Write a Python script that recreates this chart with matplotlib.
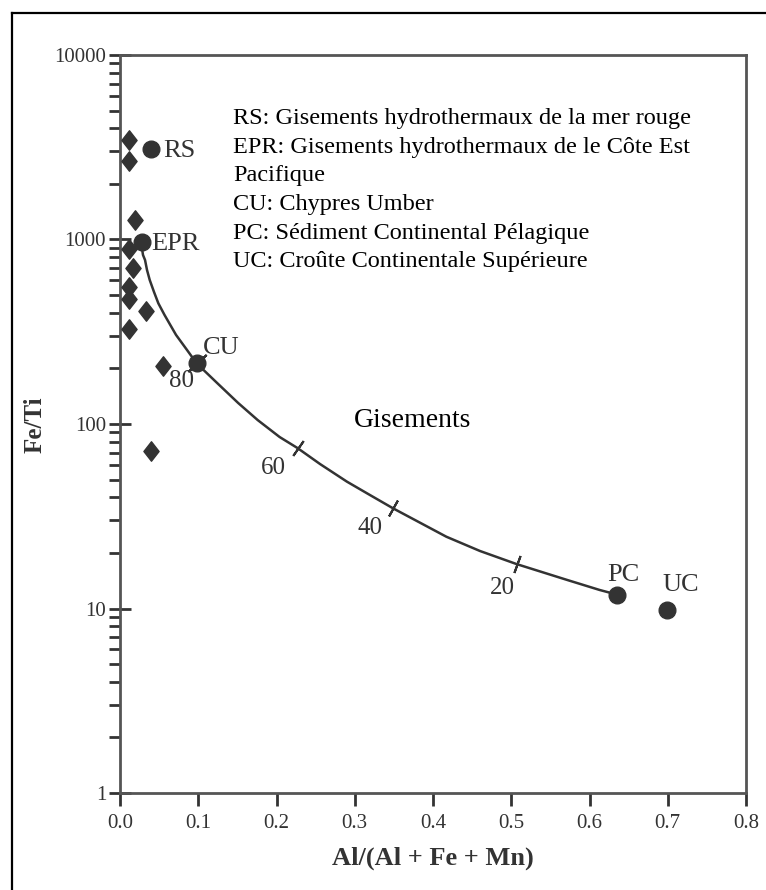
import numpy as np
import matplotlib
matplotlib.use('Agg')
import matplotlib.pyplot as plt
from matplotlib.lines import Line2D
from matplotlib.path import Path

plt.rcParams['font.family'] = ['Liberation Serif', 'DejaVu Serif']

# diamonds (samples)
sample_x = [0.012, 0.012, 0.019, 0.012, 0.017, 0.012, 0.012, 0.033, 0.012, 0.055, 0.040]
sample_y = [3460, 2675, 1275, 888, 700, 555, 476, 411, 327, 206, 71]

# reference end members
ref_names = ['RS', 'EPR', 'CU', 'PC', 'UC']
ref_x = [0.039, 0.028, 0.098, 0.635, 0.699]
ref_y = [3080, 965, 213, 11.9, 9.8]

# mixing curve EPR -> PC
curve_x = [0.028, 0.0294, 0.032, 0.0345, 0.038, 0.0435, 0.049, 0.0569, 0.0716, 0.0856,
           0.098, 0.124, 0.151, 0.176, 0.204, 0.227, 0.2556, 0.290, 0.3195,
           0.349, 0.417, 0.460, 0.507, 0.571, 0.613, 0.635]
curve_y = [900, 824, 774, 684, 603, 519, 451, 390, 304, 252,
           213, 167, 130, 105, 85, 74, 60.7, 48.7, 41.2,
           34.9, 24.5, 20.5, 17.4, 14.3, 12.6, 11.9]

# mixing % marks on the curve
mix_labels = ['80', '60', '40', '20']
mix_x = [0.098, 0.227, 0.349, 0.507]
mix_y = [213, 74, 34.9, 17.4]

legend_lines = [
    'RS: Gisements hydrothermaux de la mer rouge',
    'EPR: Gisements hydrothermaux de le Côte Est',
    'Pacifique',
    'CU: Chypres Umber',
    'PC: Sédiment Continental Pélagique',
    'UC: Croûte Continentale Supérieure',
]

INK = '#333333'
SPINE = '#555555'

fig = plt.figure(figsize=(7.66, 8.90), dpi=100)
ax = fig.add_axes([120 / 766, 1 - 793 / 890, 626 / 766, 738 / 890])

# outer frame (left + top only, like the scan)
fig.add_artist(Line2D([12 / 766, 12 / 766], [0, 1 - 13 / 890], color='black', lw=1.6,
                      transform=fig.transFigure))
fig.add_artist(Line2D([12 / 766, 1], [1 - 13 / 890, 1 - 13 / 890], color='black', lw=1.6,
                      transform=fig.transFigure))

diamond = Path([(0, 1), (0.78, 0), (0, -1), (-0.78, 0), (0, 1)],
               [Path.MOVETO, Path.LINETO, Path.LINETO, Path.LINETO, Path.CLOSEPOLY])

ax.plot(curve_x, curve_y, color=INK, lw=1.8, zorder=2, solid_joinstyle='round')
ax.plot(sample_x, sample_y, ls='none', marker=diamond, ms=14, color=INK, zorder=3)
ax.plot(ref_x, ref_y, ls='none', marker='o', ms=12, color=INK, zorder=4)

# small cross marks on the curve
tick_angles = [-47, -35, -29, -20]
tick_sizes = [18, 13, 13, 13]
for mx, my, ang, sz in zip(mix_x, mix_y, tick_angles, tick_sizes):
    ax.plot(mx, my, ls='none', marker=(2, 2, ang), ms=sz, mew=1.5, color=INK, zorder=3)

ref_offsets = [(13, -2), (9, -2), (6, 15), (6, 20), (14, 25)]
ref_ha = ['left', 'left', 'left', 'center', 'center']
for name, x, y, off, ha in zip(ref_names, ref_x, ref_y, ref_offsets, ref_ha):
    ax.annotate(name, (x, y), xytext=off, textcoords='offset pixels', ha=ha, va='center',
                fontsize=19, color=INK)

mix_offsets = [(-15, -18), (-24, -20), (-23, -20), (-14, -24)]
for lab, x, y, off in zip(mix_labels, mix_x, mix_y, mix_offsets):
    ax.annotate(lab, (x, y), xytext=off, textcoords='offset pixels', ha='center', va='center',
                fontsize=18, color=INK)

ax.text(0.3745, 105, 'Gisements', ha='center', va='center', fontsize=20, color='black')
fig.text(233 / 766, 1 - 108 / 890, '\n'.join(legend_lines), ha='left', va='top',
         fontsize=17.5, color='black', linespacing=1.48)

ax.set_yscale('log')
ax.set_xlim(0, 0.8)
ax.set_ylim(1, 10000)
ax.set_xticks(np.arange(0, 0.81, 0.1))
ax.set_xticklabels(['%.1f' % v for v in np.arange(0, 0.81, 0.1)])
ax.set_yticks([1, 10, 100, 1000, 10000])
ax.set_yticklabels(['1', '10', '100', '1000', '10000'])

for s in ax.spines.values():
    s.set_color(SPINE)
    s.set_linewidth(2)

ax.tick_params(axis='x', direction='out', length=9, width=2, color=INK, labelsize=15,
               labelcolor=INK, pad=6)
ax.tick_params(axis='y', which='major', direction='inout', length=16, width=2, color=INK,
               labelsize=15, labelcolor=INK, pad=2)
ax.tick_params(axis='y', which='minor', direction='out', length=8, width=2, color=INK)
ax.tick_params(axis='x', which='minor', bottom=False)

ax.set_xlabel('Al/(Al + Fe + Mn)', fontsize=19, fontweight='bold', color=INK, labelpad=10)
ax.set_ylabel('Fe/Ti', fontsize=18, fontweight='bold', color=INK, va='center')
ax.yaxis.set_label_coords(-85 / 626, (793 - 425) / 738)

fig.savefig('out.png', dpi=100)
